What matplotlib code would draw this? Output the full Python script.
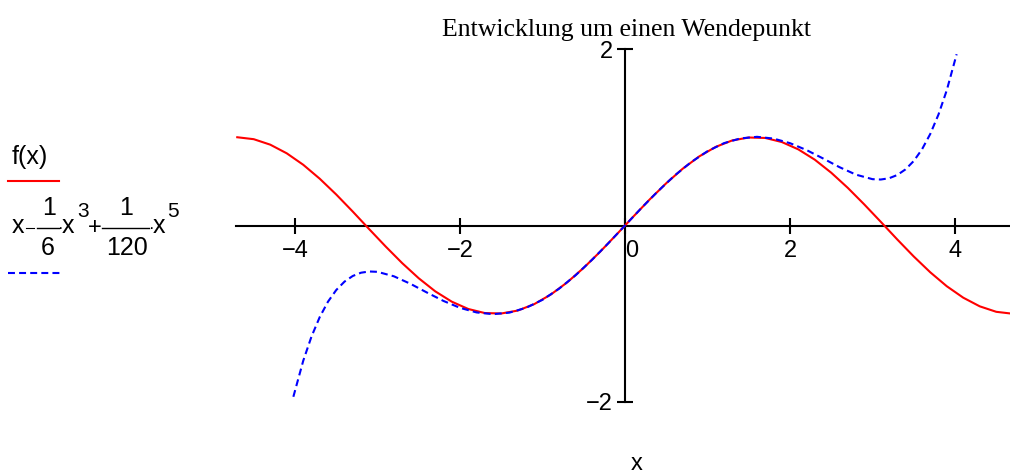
import matplotlib
matplotlib.use("Agg")
import matplotlib.pyplot as plt
from matplotlib.lines import Line2D

plt.rcParams['lines.scale_dashes'] = False

# ---- data ----
x_f = [-4.7, -4.5, -4.3, -4.1, -3.9, -3.7, -3.5, -3.3, -3.1, -2.9, -2.7, -2.5,
       -2.3, -2.1, -1.9, -1.7, -1.5, -1.3, -1.1, -0.9, -0.7, -0.5, -0.3, -0.1,
       0.1, 0.3, 0.5, 0.7, 0.9, 1.1, 1.3, 1.5, 1.7, 1.9, 2.1, 2.3,
       2.5, 2.7, 2.9, 3.1, 3.3, 3.5, 3.7, 3.9, 4.1, 4.3, 4.5, 4.7]
y_f = [1.000, 0.978, 0.916, 0.818, 0.688, 0.530, 0.351, 0.158, -0.042, -0.239, -0.427, -0.598,
       -0.746, -0.863, -0.946, -0.992, -0.997, -0.964, -0.891, -0.783, -0.644, -0.479, -0.296, -0.100,
       0.100, 0.296, 0.479, 0.644, 0.783, 0.891, 0.964, 0.997, 0.992, 0.946, 0.863, 0.746,
       0.598, 0.427, 0.239, 0.042, -0.158, -0.351, -0.530, -0.688, -0.818, -0.916, -0.978, -1.000]

x_p = [-4.02, -3.9, -3.8, -3.7, -3.6, -3.5, -3.4, -3.3, -3.2, -3.1, -3.0, -2.8, -2.6, -2.4,
       -2.2, -2.0, -1.8, -1.6, -1.4, -1.2, -1.0, -0.8, -0.6, -0.4, -0.2, 0.0,
       0.2, 0.4, 0.6, 0.8, 1.0, 1.2, 1.4, 1.6, 1.8, 2.0, 2.2,
       2.4, 2.6, 2.8, 3.0, 3.1, 3.2, 3.3, 3.4, 3.5, 3.6, 3.7, 3.8, 3.9, 4.02]
y_p = [-1.941, -1.532, -1.258, -1.037, -0.863, -0.731, -0.636, -0.572, -0.535, -0.521, -0.525,
       -0.576, -0.661, -0.760, -0.855, -0.933, -0.985, -1.005, -0.987, -0.933, -0.842, -0.717,
       -0.565, -0.389, -0.199, 0.000,
       0.199, 0.389, 0.565, 0.717, 0.842, 0.933, 0.987, 1.005, 0.985, 0.933, 0.855,
       0.760, 0.661, 0.576, 0.525, 0.521, 0.535, 0.572, 0.636, 0.731, 0.863, 1.037, 1.258, 1.532, 1.941]

x_ticks = [-4, -2, 0, 2, 4]
x_ticklabels = ['\u22124', '\u22122', '0', '2', '4']
y_ticks = [-2, 2]
y_ticklabels = ['\u22122', '2']

title = 'Entwicklung um einen Wendepunkt'
xlabel = 'x'

RED = '#ff0000'
BLUE = '#0000ff'
W, H = 1010, 474
SANS = 'Liberation Sans'
FS = 17
LFS = 18

fig = plt.figure(figsize=(W / 100, H / 100), dpi=100)

x0_px, xscale = 625.0, 82.5
left_px = x0_px - 4.71 * xscale
ax = fig.add_axes([left_px / W, (H - 402) / H, (W - left_px) / W, 353 / H])
ax.set_xlim(-4.71, (W - x0_px) / xscale)
ax.set_ylim(-2, 2)
ax.patch.set_visible(False)

ax.plot(x_f, y_f, color=RED, lw=1.5, solid_joinstyle='round')
ax.plot(x_p, y_p, color=BLUE, lw=1.5, dashes=(5, 3))

for s in ('top', 'right'):
    ax.spines[s].set_visible(False)
for s in ('left', 'bottom'):
    ax.spines[s].set_position('zero')
    ax.spines[s].set_linewidth(1.5)
    ax.spines[s].set_zorder(0)

ax.set_xticks(x_ticks)
ax.set_xticklabels(x_ticklabels, fontsize=FS, family=SANS)
ax.set_yticks(y_ticks)
ax.set_yticklabels(y_ticklabels, fontsize=FS, family=SANS)
ax.tick_params(axis='both', direction='inout', length=11.5, width=1.5)
ax.tick_params(axis='x', pad=4.5)
ax.tick_params(axis='y', pad=3)
lbl0 = ax.get_xticklabels()[2]
lbl0.set_ha('left')

def P(x, y):
    return (x / W, 1 - y / H)

fig.text(*P(626, 30), title, ha='center', va='center', fontsize=18.5,
         family='Liberation Serif')
fig.text(*P(637, 464), xlabel, ha='center', va='center', fontsize=FS, family=SANS)

# legend
fig.text(*P(12, 164), 'f(x)', ha='left', va='baseline', fontsize=LFS, family=SANS)
fig.add_artist(Line2D([8 / W, 59 / W], [1 - 181 / H, 1 - 181 / H], color=RED, lw=1.5,
                      transform=fig.transFigure))

def T(x, y, s, ha='left', fs=LFS):
    fig.text(*P(x, y), s, ha=ha, va='baseline', fontsize=fs, family=SANS)

def bar(x1, x2, y):
    fig.add_artist(Line2D([x1 / W, x2 / W], [1 - y / H, 1 - y / H], color='black', lw=1.0,
                          transform=fig.transFigure))

T(12, 233, 'x')
fig.add_artist(Line2D([26 / W, 34 / W], [1 - 228 / H, 1 - 228 / H], color='black', lw=0.8,
                      transform=fig.transFigure))
bar(37, 59, 228)
T(49, 215, '1', ha='center')
T(48, 255, '6', ha='center')
T(60.5, 233, '\u00b7', ha='center', fs=12)
T(62, 233, 'x')
T(77, 217, '3', fs=15)
T(95, 234, '+', ha='center', fs=17)
bar(102, 149, 228)
T(126, 215, '1', ha='center')
T(127, 255, '120', ha='center')
T(151.5, 233, '\u00b7', ha='center', fs=12)
T(153, 233, 'x')
T(167, 217, '5', fs=15)
fig.add_artist(Line2D([8 / W, 60 / W], [1 - 273 / H, 1 - 273 / H], color=BLUE, lw=1.5,
                      dashes=(5, 3), transform=fig.transFigure))

fig.savefig('out.png', dpi=100)
